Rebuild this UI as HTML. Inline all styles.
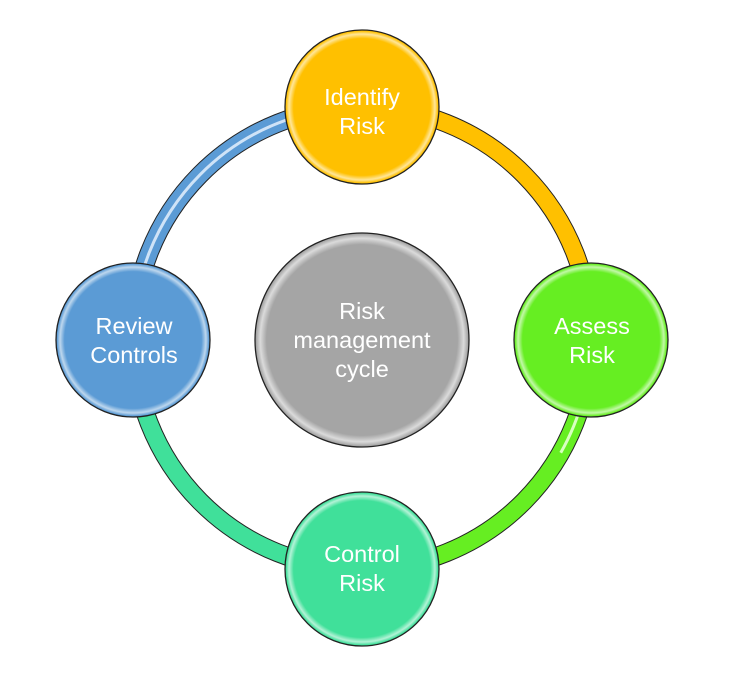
<!DOCTYPE html>
<html><head><meta charset="utf-8"><style>
html,body{margin:0;padding:0;background:#fff;width:739px;height:678px;overflow:hidden}
svg text{font-family:"Liberation Sans",sans-serif;fill:#fff;font-size:23.5px;text-anchor:middle}
</style></head><body>
<svg width="739" height="678" viewBox="0 0 739 678" xmlns="http://www.w3.org/2000/svg">
<defs>
<radialGradient id="g" cx="0.5" cy="0.5" r="0.5">
<stop offset="0.9" stop-color="#fff" stop-opacity="0"/>
<stop offset="0.96" stop-color="#fff" stop-opacity="0.6"/>
<stop offset="1" stop-color="#fff" stop-opacity="0"/>
</radialGradient>
</defs>
<g fill="none">
<path d="M362 107 A229 231 0 0 1 591 338" stroke="#222" stroke-width="19"/>
<path d="M362 107 A229 231 0 0 1 591 338" stroke="#ffc000" stroke-width="17"/>
<path d="M591 338 A229 231 0 0 1 362 569" stroke="#222" stroke-width="19"/>
<path d="M591 338 A229 231 0 0 1 362 569" stroke="#66ee22" stroke-width="17"/>
<path d="M362 569 A229 231 0 0 1 133 338" stroke="#222" stroke-width="19"/>
<path d="M362 569 A229 231 0 0 1 133 338" stroke="#40e09a" stroke-width="17"/>
<path d="M133 338 A229 231 0 0 1 362 107" stroke="#222" stroke-width="19"/>
<path d="M133 338 A229 231 0 0 1 362 107" stroke="#5b9bd5" stroke-width="17"/>
<path d="M133 338 A229 231 0 0 1 362 107" stroke="#cfe3f7" stroke-width="3"/>
<path d="M591 338 A229 231 0 0 1 362 569" stroke="#d8ffc0" stroke-width="3" stroke-dasharray="120 400"/>
</g>
<g stroke="#222" stroke-width="1.3">
<circle cx="362" cy="107" r="77" fill="#ffc000"/>
<circle cx="591" cy="340" r="77" fill="#66ee22"/>
<circle cx="362" cy="569" r="77" fill="#40e09a"/>
<circle cx="133" cy="340" r="77" fill="#5b9bd5"/>
<circle cx="362" cy="340" r="107" fill="#a5a5a5"/>
</g>
<g fill="url(#g)">
<circle cx="362" cy="107" r="76"/><circle cx="591" cy="340" r="76"/>
<circle cx="362" cy="569" r="76"/><circle cx="133" cy="340" r="76"/>
<circle cx="362" cy="340" r="106"/>
</g>
<text x="362" y="105">Identify</text><text x="362" y="134">Risk</text>
<text x="592" y="334">Assess</text><text x="592" y="363">Risk</text>
<text x="362" y="562">Control</text><text x="362" y="591">Risk</text>
<text x="134" y="334">Review</text><text x="134" y="363">Controls</text>
<text x="362" y="319">Risk</text><text x="362" y="348">management</text><text x="362" y="377">cycle</text>
</svg>
</body></html>
